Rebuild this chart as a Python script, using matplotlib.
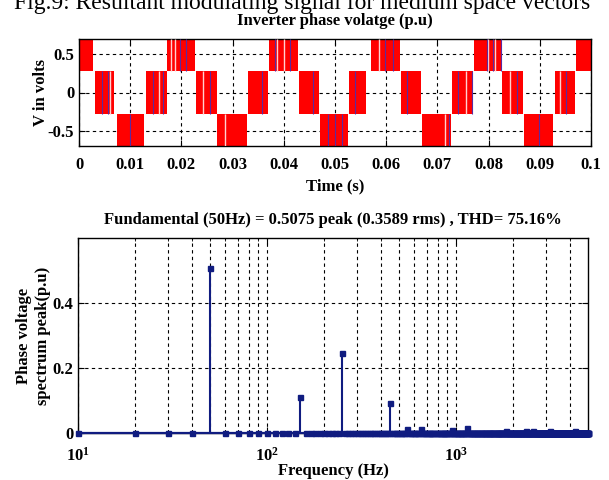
import numpy as np
import matplotlib
matplotlib.use("Agg")
import matplotlib.pyplot as plt
from matplotlib.ticker import FixedLocator, FixedFormatter, NullFormatter

plt.rcParams["font.family"] = "Liberation Serif"
plt.rcParams["font.weight"] = "bold"
plt.rcParams["mathtext.fontset"] = "custom"
plt.rcParams["mathtext.rm"] = "Liberation Serif:bold"
plt.rcParams["mathtext.bf"] = "Liberation Serif:bold"
plt.rcParams["mathtext.it"] = "Liberation Serif:bold"

# ---- inverter phase voltage (red PWM blocks) ----
top_starts = [0.0, 0.0172, 0.0372, 0.0570, 0.0771, 0.0971]
top_ends = [0.00267, 0.0227, 0.0427, 0.0626, 0.0827, 0.1]
bottom_starts = [0.0074, 0.0270, 0.0471, 0.0669, 0.0870]
bottom_ends = [0.0127, 0.0328, 0.0526, 0.0726, 0.0925]
mid_starts = [0.0031, 0.0130, 0.0229, 0.0331, 0.0430, 0.0528, 0.0629, 0.0728, 0.0827, 0.0930]
mid_ends = [0.0069, 0.0171, 0.0269, 0.0370, 0.0469, 0.0561, 0.0667, 0.0769, 0.0868, 0.0969]
outer_level = 0.7
inner_level = 0.28

white_lines = [0.0060, 0.0157, 0.0180, 0.0187, 0.0243, 0.0285, 0.0387, 0.0400,
               0.0585, 0.0715, 0.0756, 0.0799, 0.0813, 0.0842, 0.0940]
blue_lines = [0.00455, 0.0057, 0.0100, 0.0144, 0.0165, 0.0197, 0.0209, 0.0256,
              0.0357, 0.0383, 0.0412, 0.0458, 0.0486, 0.0500, 0.0513, 0.0539,
              0.0598, 0.0614, 0.0641, 0.0723, 0.0741, 0.0767, 0.0796, 0.0809,
              0.0824, 0.0856, 0.0898, 0.0952]

# ---- harmonic spectrum ----
spec_freqs = np.arange(10, 5001, 10)
harm_freqs = [50, 150, 250, 450, 550, 650, 950, 1150, 1850, 2350, 2550, 3150, 4250]
harm_mags = [0.5075, 0.112, 0.245, 0.092, 0.013, 0.011, 0.009, 0.014, 0.006, 0.006, 0.006, 0.006, 0.006]

spec_vals = np.zeros(len(spec_freqs))
for f, m in zip(harm_freqs, harm_mags):
    spec_vals[spec_freqs == f] = m

fig = plt.figure(figsize=(6.09, 4.8), dpi=100)

# caption of the figure, cut by the top edge as in the source
fig.text(302 / 609, 1 - 9 / 480, "Fig.9: Resultant modulating signal for medium space vectors",
         ha="center", va="baseline", fontsize=17, fontweight="normal")

ax1 = fig.add_axes([79 / 609, 1 - 146 / 480, 512 / 609, 107 / 480])
red = "#ff0000"
for s, e in zip(top_starts, top_ends):
    ax1.fill_between([s, e], inner_level, outer_level, color=red, lw=0, zorder=2)
for s, e in zip(bottom_starts, bottom_ends):
    ax1.fill_between([s, e], -outer_level, -inner_level, color=red, lw=0, zorder=2)
for s, e in zip(mid_starts, mid_ends):
    ax1.fill_between([s, e], -inner_level, inner_level, color=red, lw=0, zorder=2)


def block_range(t):
    for s, e in zip(top_starts, top_ends):
        if s <= t <= e:
            return inner_level, outer_level
    for s, e in zip(bottom_starts, bottom_ends):
        if s <= t <= e:
            return -outer_level, -inner_level
    return -inner_level, inner_level


for t in white_lines:
    lo, hi = block_range(t)
    ax1.vlines(t, lo, hi, color="#ffd0d0", lw=1.0, zorder=3)
for t in blue_lines:
    lo, hi = block_range(t)
    ax1.vlines(t, lo, hi, color="#5a2aa0", lw=0.8, zorder=3)

ax1.set_xlim(0, 0.1)
ax1.set_ylim(-0.7, 0.7)
ax1.set_xticks(np.arange(0, 0.101, 0.01))
ax1.set_xticklabels(["0", "0.01", "0.02", "0.03", "0.04", "0.05", "0.06", "0.07", "0.08", "0.09", "0.1"])
ax1.set_yticks([-0.5, 0, 0.5])
ax1.set_yticklabels(["-0.5", "0", "0.5"])
ax1.grid(True, color="black", linestyle=(0, (3, 3)), lw=0.8)
ax1.set_axisbelow(True)
ax1.tick_params(direction="in", top=True, right=True, labelsize=12, length=4)
ax1.tick_params(axis="x", pad=8)
ax1.tick_params(axis="y", pad=3.5)
ax1.set_title("Inverter phase volatge (p.u)", fontsize=12, fontweight="bold", pad=10)
ax1.set_xlabel("Time (s)", fontsize=12, fontweight="bold", labelpad=4)
ax1.set_ylabel("V in volts", fontsize=12, fontweight="bold", labelpad=-1)

# ---- spectrum axes ----
ax2 = fig.add_axes([78 / 609, 1 - 433 / 480, 510 / 609, 195 / 480])
navy = "#101c80"
ax2.set_xscale("log")
ax2.plot([10, 5000], [0, 0], color=navy, lw=1.6, clip_on=False, zorder=3)
ax2.vlines(spec_freqs, 0, spec_vals, color=navy, lw=1.5, zorder=3)
ax2.plot(spec_freqs, spec_vals, "s", color=navy, ms=3.6, clip_on=False, zorder=4)
ax2.set_xlim(10, 5000)
ax2.set_ylim(0, 0.6)
ax2.xaxis.set_major_locator(FixedLocator([10, 100, 1000]))
ax2.xaxis.set_major_formatter(FixedFormatter(["$10^{1}$", "$10^{2}$", "$10^{3}$"]))
minor = [20, 30, 40, 50, 60, 70, 80, 90, 200, 300, 400, 500, 600, 700, 800, 900, 2000, 3000, 4000]
ax2.xaxis.set_minor_locator(FixedLocator(minor))
ax2.xaxis.set_minor_formatter(NullFormatter())
ax2.set_yticks([0, 0.2, 0.4])
ax2.set_yticklabels(["0", "0.2", "0.4"])
ax2.grid(True, which="both", axis="x", color="black", linestyle=(0, (3, 3)), lw=0.8)
ax2.grid(True, which="major", axis="y", color="black", linestyle=(0, (3, 3)), lw=0.8)
ax2.set_axisbelow(True)
ax2.tick_params(which="both", direction="in", top=True, right=True, labelsize=12, length=4)
ax2.tick_params(which="minor", length=2)
ax2.tick_params(axis="x", which="both", pad=10)
ax2.tick_params(axis="y", pad=3.5)
ax2.set_title("Fundamental (50Hz) = 0.5075 peak (0.3589 rms) , THD= 75.16%",
              fontsize=12, fontweight="bold", pad=10)
ax2.set_xlabel("Frequency (Hz)", fontsize=12, fontweight="bold", labelpad=-1)
ax2.set_ylabel("Phase voltage\nspectrum peak(p.u)", fontsize=12, fontweight="bold", labelpad=1)

for ax in (ax1, ax2):
    for sp in ax.spines.values():
        sp.set_linewidth(1.0)

fig.savefig("out.png", dpi=100)
